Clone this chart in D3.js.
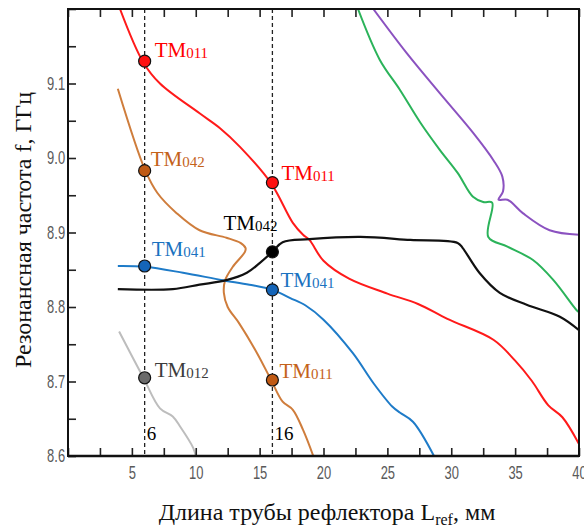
<!DOCTYPE html>
<html lang="ru">

<head>
    <meta charset="UTF-8">
    <script src="https://cdnjs.cloudflare.com/ajax/libs/d3/7.8.5/d3.min.js" type="text/JavaScript"></script>
    <title>Резонансная частота</title>
    <style>
        body { margin: 0; background: #fff; }
        .tick text { font-family: "Liberation Sans", Arial, sans-serif; }
        .serif { font-family: "Liberation Serif", "Times New Roman", serif; }
    </style>
</head>

<body>
    <svg width="584" height="528"></svg>
    <script>
        // curves: [L_ref (mm), f (GHz)]
        var curveTM011upper = [[4.07, 9.2], [5.87, 9.129], [7.2, 9.10], [10.3, 9.060], [11.9, 9.040], [13.46, 9.015],
            [15.9, 8.966], [17.6, 8.913], [18.4, 8.897], [18.9, 8.890], [20.0, 8.862], [22.0, 8.838], [25.0, 8.818],
            [27.4, 8.804], [29.7, 8.784], [33.3, 8.756], [35.0, 8.728], [36.3, 8.701], [37.6, 8.668], [38.7, 8.652],
            [40, 8.616]];
        var curveTM042orange = [[3.9, 9.093], [6.03, 8.984], [7.0, 8.953], [8.5, 8.926], [10.3, 8.903], [12.4, 8.893],
            [13.5, 8.886], [13.9, 8.879], [13.85, 8.874], [12.9, 8.854], [12.3, 8.836], [12.2, 8.819], [12.5, 8.80],
            [13.4, 8.778], [14.8, 8.738], [15.9, 8.702], [16.8, 8.673], [17.6, 8.662], [18.4, 8.635], [19.2, 8.6]];
        var curveTM041 = [[3.9, 8.855], [6, 8.854], [9.0, 8.846], [12.1, 8.836], [14.2, 8.830], [16, 8.823],
            [17.4, 8.812], [18.6, 8.802], [20, 8.783], [22.3, 8.738], [23.9, 8.698], [25.4, 8.666], [26.0, 8.658],
            [27.0, 8.646], [28.65, 8.6]];
        var curveTM042black = [[3.9, 8.824], [8.2, 8.824], [10.3, 8.830], [12.4, 8.836], [14.0, 8.846], [15.0, 8.859],
            [16, 8.874], [16.8, 8.887], [18.9, 8.891], [22.9, 8.894], [26.8, 8.890], [30.5, 8.886], [30.9, 8.879],
            [32.2, 8.846], [33.8, 8.819], [35.9, 8.803], [38.5, 8.787], [40, 8.769]];
        var curveGreen = [[22.7, 9.2], [24.4, 9.132], [26.0, 9.091], [27.6, 9.047], [29.1, 9.011], [30.5, 8.980],
            [31.7, 8.948], [32.5, 8.941], [33.2, 8.940], [32.9, 8.894], [34.4, 8.881], [36.4, 8.863], [38.0, 8.836],
            [39.8, 8.796], [40, 8.793]];
        var curvePurple = [[23.9, 9.2], [26.5, 9.141], [29.1, 9.087], [31.7, 9.034], [33.3, 8.997], [34.0, 8.975],
            [34.05, 8.955], [33.7, 8.944], [34.4, 8.944], [35.6, 8.926], [37.7, 8.903], [40, 8.897]];
        var curveTM012 = [[4.0, 8.767], [5.9, 8.705], [7.2, 8.664], [8.2, 8.653], [8.8, 8.639], [9.8, 8.611], [10.0, 8.6]];

        var cutLengths = [6, 16];

        var markerL = [6, 6, 6, 6, 16, 16, 16, 16];
        var markerF = [9.13, 8.983, 8.855, 8.705, 8.967, 8.874, 8.823, 8.702];
        var markerSub = ["011", "042", "041", "012", "011", "042", "041", "011"];

        var yTicks = d3.range(8.6, 9.2001, 0.05);
        var yLabels = [8.6, 8.7, 8.8, 8.9, 9.0, 9.1];
        var xTicks = d3.range(0, 40.001, 2.5);
        var xLabels = [5, 10, 15, 20, 25, 30, 35, 40];

        // styles
        var lineColors = ["#ff1a1a", "#cf7d3c", "#1e7bc8", "#111111", "#2bb35a", "#8b52c0", "#bdbdbd"];
        var markerFill = ["#ff1010", "#c05a14", "#1565b8", "#6a6a6a", "#ff1010", "#000000", "#1565b8", "#c05a14"];
        var labelFill = ["#ff0000", "#c4621a", "#1a72c0", "#3c3c3c", "#ff0000", "#000000", "#1a72c0", "#c4621a"];
        var labelDx = [10, 6, 7, 10, 9, -49, 8, 7];
        var labelDy = [-4, -5, -10, -1, -3, -22, -3, -2];

        var svg = d3.select("svg");

        var x = d3.scaleLinear().domain([0, 40]).range([68, 579]);
        var y = d3.scaleLinear().domain([8.6, 9.2]).range([456, 9]);

        svg.append("defs").append("clipPath").attr("id", "plot")
            .append("rect")
            .attr("x", x(0)).attr("y", y(9.2))
            .attr("width", x(40) - x(0)).attr("height", y(8.6) - y(9.2));

        // dashed cuts
        svg.selectAll("line.cut")
            .data(cutLengths)
            .enter()
            .append("line")
            .attr("class", "cut")
            .attr("x1", d => x(d)).attr("x2", d => x(d))
            .attr("y1", y(9.2)).attr("y2", y(8.6))
            .attr("stroke", "#222")
            .attr("stroke-width", 1.3)
            .attr("stroke-dasharray", "4,3");

        svg.selectAll("text.cut")
            .data(cutLengths)
            .enter()
            .append("text")
            .attr("class", "cut serif")
            .attr("x", d => x(d) + 2)
            .attr("y", 440)
            .attr("font-size", 19)
            .text(d => d);

        var line = d3.line()
            .x(d => x(d[0]))
            .y(d => y(d[1]))
            .curve(d3.curveCatmullRom.alpha(0.5));

        var curves = [curveTM011upper, curveTM042orange, curveTM041, curveTM042black, curveGreen, curvePurple, curveTM012];

        svg.append("g")
            .attr("clip-path", "url(#plot)")
            .selectAll("path")
            .data(curves)
            .enter()
            .append("path")
            .attr("d", line)
            .attr("fill", "none")
            .attr("stroke", (d, i) => lineColors[i])
            .attr("stroke-width", (d, i) => i == 3 ? 2.2 : 2);

        // axes
        var yAxis = d3.axisLeft(y)
            .tickValues(yTicks)
            .tickSize(-8)
            .tickPadding(4)
            .tickFormat(d => yLabels.some(v => Math.abs(v - d) < 1e-6) ? d3.format(".1f")(d) : "");

        var xAxis = d3.axisBottom(x)
            .tickValues(xTicks)
            .tickSize(-8)
            .tickPadding(10)
            .tickFormat(d => xLabels.includes(d) ? d : "");

        var xTop = d3.axisTop(x)
            .tickValues(xTicks)
            .tickSize(-8)
            .tickFormat("");

        var gy = svg.append("g").attr("transform", "translate(" + x(0) + ",0)").call(yAxis);
        var gx = svg.append("g").attr("transform", "translate(0," + y(8.6) + ")").call(xAxis);
        var gt = svg.append("g").attr("transform", "translate(0," + y(9.2) + ")").call(xTop);

        [gy, gx, gt].forEach(g => {
            g.select(".domain").remove();
            g.selectAll(".tick line").attr("stroke", "#222").attr("stroke-width", 1.6);
            g.selectAll(".tick text")
                .attr("fill", "#5a5a5a")
                .attr("font-size", 18)
                .attr("transform", "scale(0.72,1)");
        });

        svg.append("rect")
            .attr("x", x(0)).attr("y", y(9.2))
            .attr("width", x(40) - x(0)).attr("height", y(8.6) - y(9.2))
            .attr("fill", "none")
            .attr("stroke", "#111")
            .attr("stroke-width", 2);
        svg.append("line")
            .attr("x1", x(0)).attr("x2", x(40))
            .attr("y1", y(8.6)).attr("y2", y(8.6))
            .attr("stroke", "#111")
            .attr("stroke-width", 2.6);

        // markers and mode labels
        var marks = svg.append("g")
            .selectAll("g")
            .data(markerL)
            .enter()
            .append("g")
            .attr("transform", (d, i) => "translate(" + x(d) + "," + y(markerF[i]) + ")");

        marks.append("circle")
            .attr("r", 6)
            .attr("fill", (d, i) => markerFill[i])
            .attr("stroke", "#111")
            .attr("stroke-width", 1.2);

        var labels = marks.append("text")
            .attr("class", "serif")
            .attr("x", (d, i) => labelDx[i])
            .attr("y", (d, i) => labelDy[i])
            .attr("fill", (d, i) => labelFill[i])
            .attr("font-size", 21);
        labels.append("tspan").text("TM");
        labels.append("tspan")
            .attr("font-size", 15)
            .attr("dy", 1)
            .text((d, i) => markerSub[i]);

        // axis titles
        svg.append("text")
            .attr("class", "serif")
            .attr("transform", "translate(31,230) rotate(-90)")
            .attr("text-anchor", "middle")
            .attr("font-size", 24)
            .attr("fill", "#111")
            .text("Резонансная частота f, ГГц");

        var xt = svg.append("text")
            .attr("class", "serif")
            .attr("x", 327)
            .attr("y", 520)
            .attr("text-anchor", "middle")
            .attr("font-size", 24)
            .attr("fill", "#111");
        xt.append("tspan").text("Длина трубы рефлектора L");
        xt.append("tspan").attr("font-size", 16).attr("dy", 5).text("ref");
        xt.append("tspan").attr("dy", -5).text(", мм");
    </script>
</body>

</html>
